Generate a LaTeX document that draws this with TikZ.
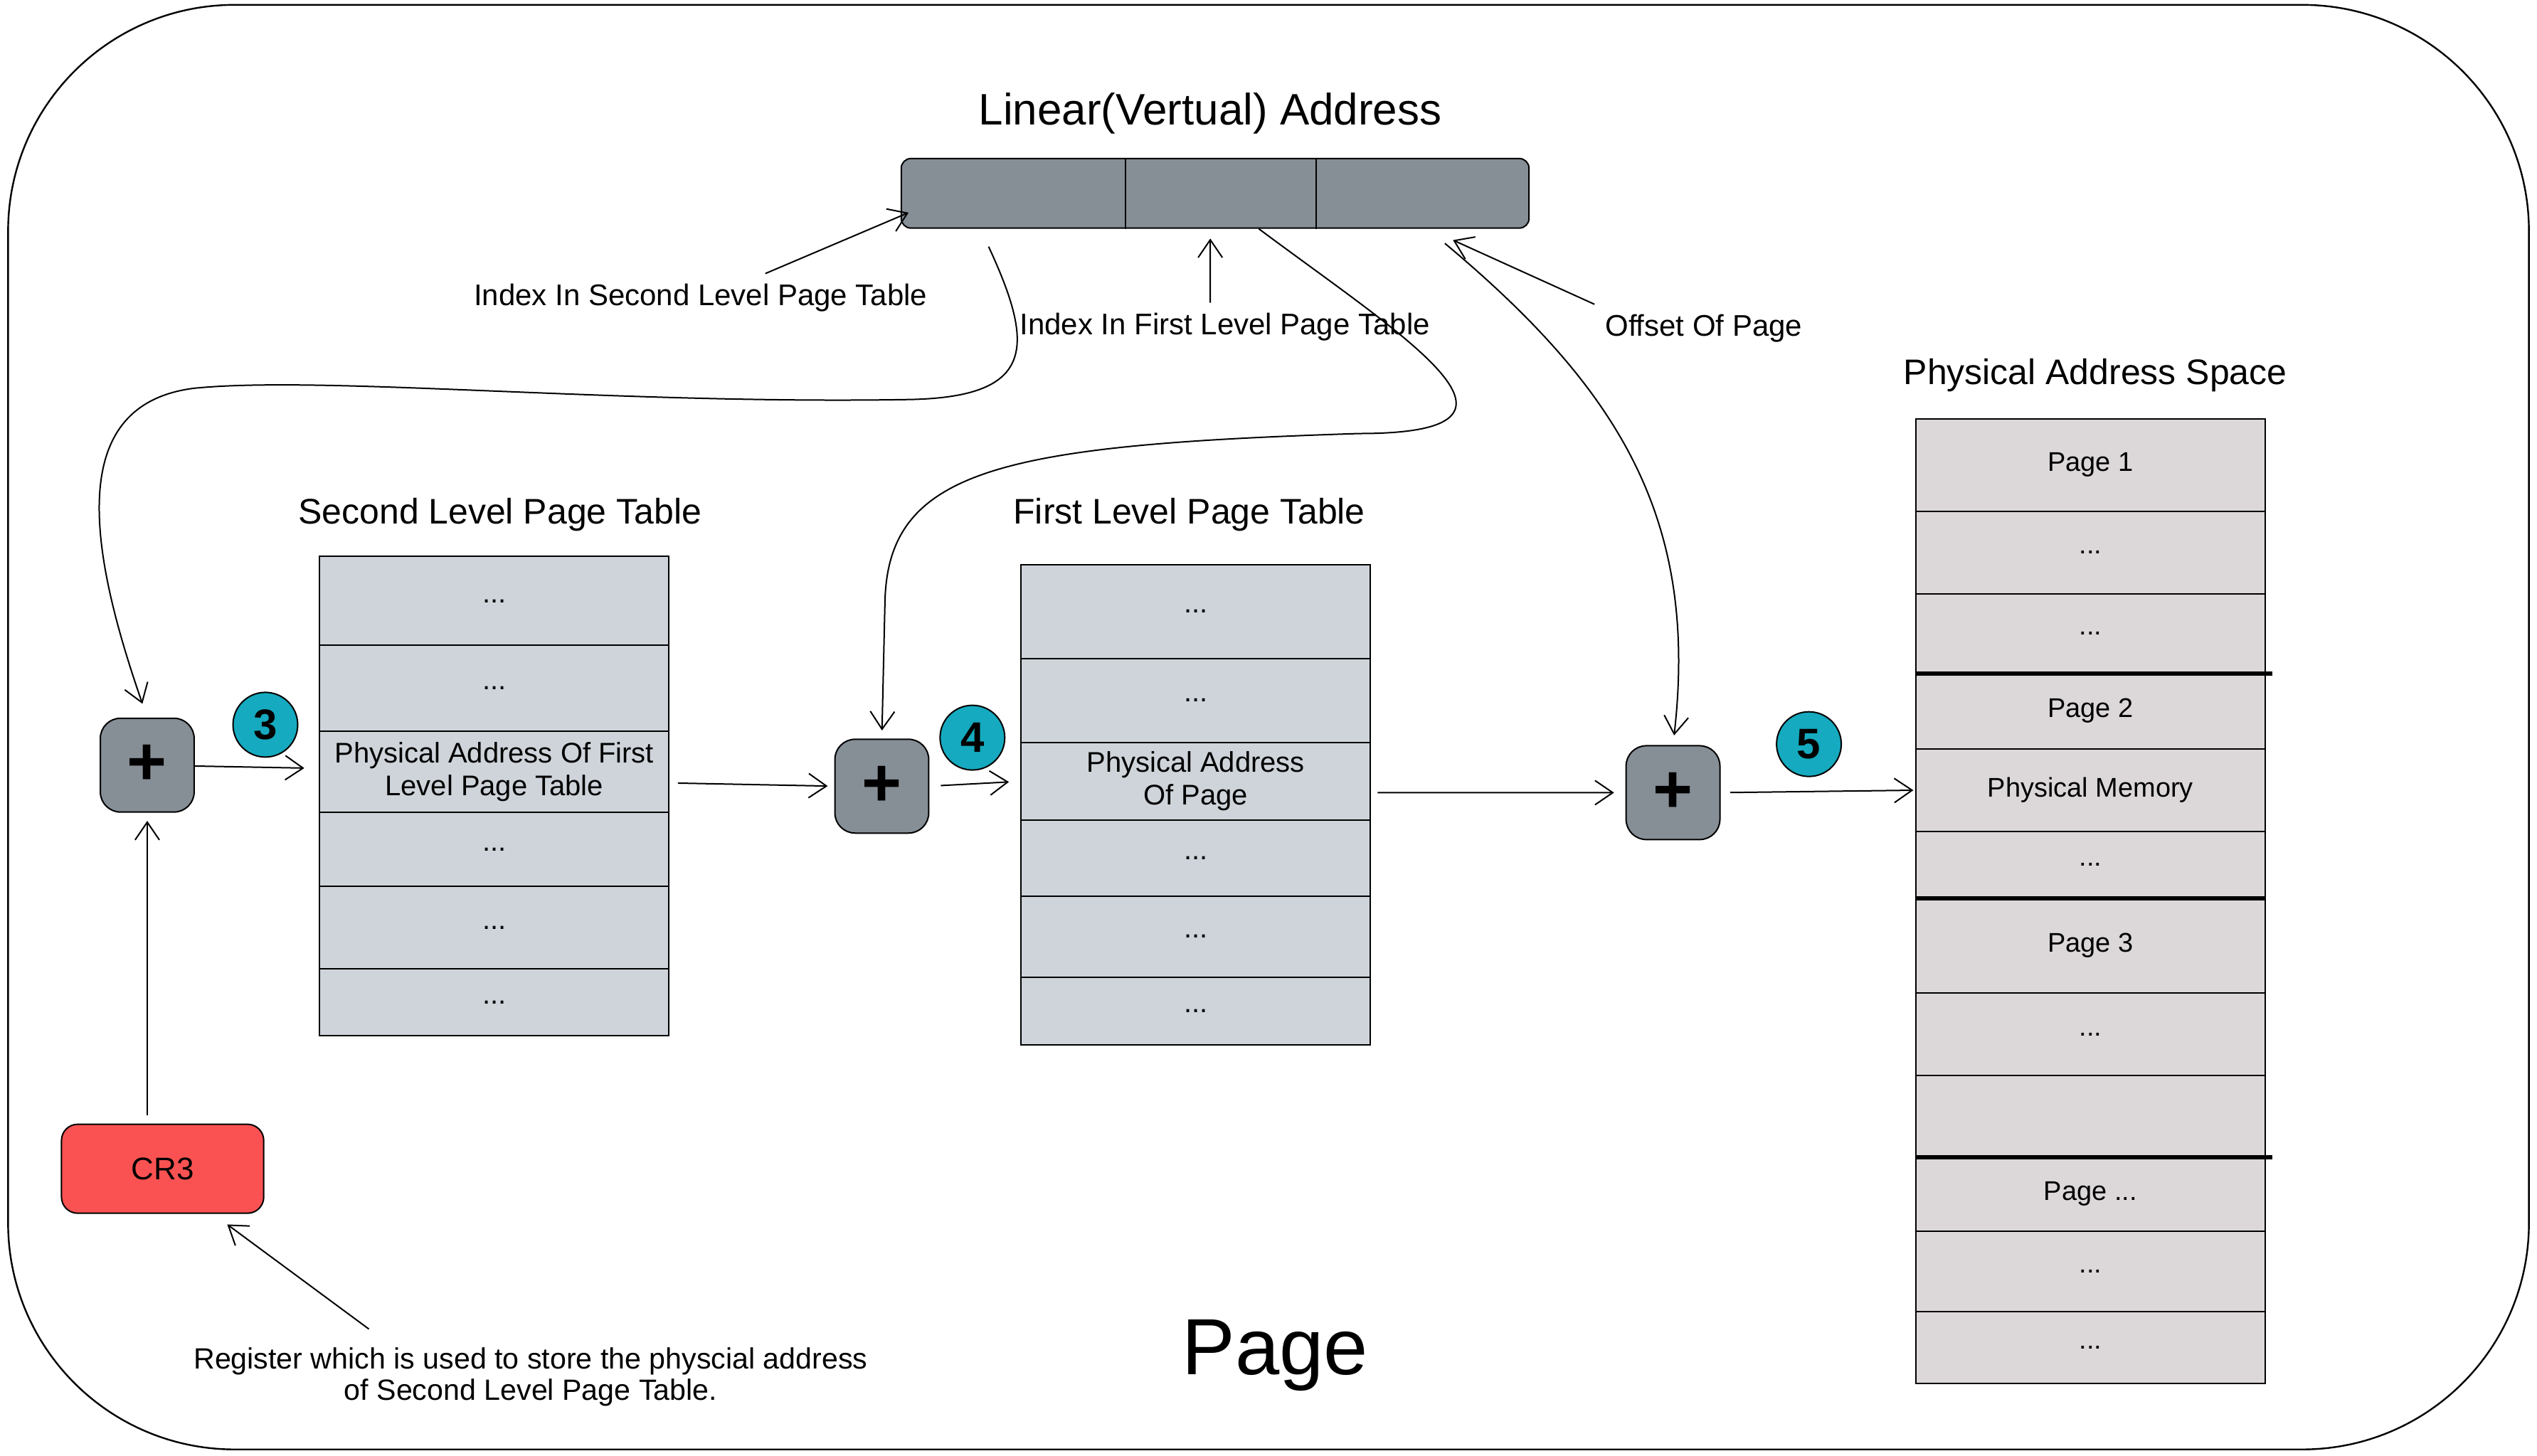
\documentclass[tikz,border=0pt]{standalone}
\usepackage{fontspec}
\setmainfont{Liberation Sans}
\usetikzlibrary{arrows.meta}

\definecolor{addrgray}{HTML}{868E96}
\definecolor{rowblue}{HTML}{CED4DA}
\definecolor{rowrose}{HTML}{DCD8D9}
\definecolor{badgeteal}{HTML}{15AABF}
\definecolor{regred}{HTML}{FA5252}

\tikzset{
  tblrow/.style={draw, line width=0.5pt, fill=rowblue, minimum width=43.2mm, inner sep=0pt,
    font=\fontsize{10}{11.5}\selectfont, align=center},
  memrow/.style={tblrow, fill=rowrose, font=\fontsize{9.5}{11.5}\selectfont},
  adder/.style={draw, fill=addrgray, rounded corners=2.5mm, minimum size=11.6mm, inner sep=0pt,
    font=\fontsize{24}{24}\selectfont\bfseries},
  badge/.style={circle, draw, fill=badgeteal, minimum size=8mm, inner sep=0pt,
    font=\fontsize{15}{15}\selectfont\bfseries},
  heading/.style={font=\fontsize{12.5}{14}\selectfont},
  hint/.style={font=\fontsize{10.5}{12}\selectfont},
  pagesep/.style={-, line width=1.6pt},
}

\begin{document}
\begin{tikzpicture}[->,>={Straight Barb[length=2.2mm,width=3mm]},x=0.2mm,y=-0.2mm,line width=0.5pt]
  \useasboundingbox (0,0) rectangle (1568,900);
  \draw[-, rounded corners=28mm, line width=0.6pt] (5,3) rectangle (1563,896);

  % linear address
  \node[font=\fontsize{15.5}{17}\selectfont] (vtitle) at (748,70) {Linear(Vertual) Address};
  \node[draw, fill=addrgray, rounded corners=1.2mm, minimum width=77.6mm, minimum height=8.6mm, inner sep=0pt] (vaddr) at (751,119.5) {};
  \node[minimum width=27.6mm, minimum height=8.6mm, inner sep=0pt] (seg1) at (626,119.5) {};
  \node[minimum width=23.6mm, minimum height=8.6mm, inner sep=0pt] (seg2) at (754,119.5) {};
  \node[minimum width=26.4mm, minimum height=8.6mm, inner sep=0pt] (seg3) at (879,119.5) {};
  \draw[-] (seg1.north east) -- (seg1.south east);
  \draw[-] (seg2.north east) -- (seg2.south east);

  \node[hint] (idx2) at (433,184) {Index In Second Level Page Table};
  \node[hint] (idx1) at (757,202) {Index In First Level Page Table};
  \node[hint] (offs) at (1053,203) {Offset Of Page};

  \draw ([xshift=8mm]idx2.north) -- ([xshift=1mm,yshift=2mm]vaddr.south west);
  \draw ([xshift=-1.8mm]idx1.north) -- ([xshift=-1.2mm,yshift=-1.2mm]seg2.south);
  \draw ([xshift=-13.5mm]offs.north) -- ([xshift=3.8mm,yshift=-1.4mm]seg3.south);

  % adders and steps
  \node[adder] (plus1) at (91,473) {+};
  \node[adder] (plus2) at (545,486) {+};
  \node[adder] (plus3) at (1034,490) {+};
  \node[badge] (b3) at (164,448) {3};
  \node[badge] (b4) at (601,456) {4};
  \node[badge] (b5) at (1118,460) {5};

  \node[draw, fill=regred, rounded corners=2mm, minimum width=25mm, minimum height=11mm,
        font=\fontsize{11}{13}\selectfont] (cr3) at (100.5,722.5) {CR3};
  \node[font=\fontsize{10.3}{11}\selectfont, align=center] (note) at (328,851)
        {Register which is used to store the physcial address\\of Second Level Page Table.};
  \node[font=\fontsize{28}{30}\selectfont] (pgtitle) at (788,838) {Page};

  % second level page table
  \node[heading] (sltitle) at (309,318) {Second Level Page Table};
  \node[tblrow, minimum height=11mm]   (sl1) at (305.5,371.5) {...};
  \node[tblrow, minimum height=10.6mm] (sl2) at (305.5,425.5) {...};
  \node[tblrow, minimum height=10mm]   (sl3) at (305.5,477)   {Physical Address Of First\\Level Page Table};
  \node[tblrow, minimum height=9.2mm]  (sl4) at (305.5,525)   {...};
  \node[tblrow, minimum height=10.2mm] (sl5) at (305.5,573.5) {...};
  \node[tblrow, minimum height=8.2mm]  (sl6) at (305.5,619.5) {...};

  % first level page table
  \node[heading] (fltitle) at (735,318) {First Level Page Table};
  \node[tblrow, minimum height=11.6mm] (fl1) at (739,378)   {...};
  \node[tblrow, minimum height=10.4mm] (fl2) at (739,433)   {...};
  \node[tblrow, minimum height=9.6mm]  (fl3) at (739,483)   {Physical Address\\Of Page};
  \node[tblrow, minimum height=9.4mm]  (fl4) at (739,530.5) {...};
  \node[tblrow, minimum height=10mm]   (fl5) at (739,579)   {...};
  \node[tblrow, minimum height=8.4mm]  (fl6) at (739,625)   {...};

  % physical address space
  \node[heading] (pmtitle) at (1295,232) {Physical Address Space};
  \node[memrow, minimum height=11.4mm] (pm1)  at (1292,287.5) {Page 1};
  \node[memrow, minimum height=10.2mm] (pm2)  at (1292,341.5) {...};
  \node[memrow, minimum height=9.8mm]  (pm3)  at (1292,391.5) {...};
  \node[memrow, minimum height=9.4mm]  (pm4)  at (1292,439.5) {Page 2};
  \node[memrow, minimum height=10.2mm] (pm5)  at (1292,488.5) {Physical Memory};
  \node[memrow, minimum height=8.2mm]  (pm6)  at (1292,534.5) {...};
  \node[memrow, minimum height=11.8mm] (pm7)  at (1292,584.5) {Page 3};
  \node[memrow, minimum height=10.2mm] (pm8)  at (1292,639.5) {...};
  \node[memrow, minimum height=10mm]   (pm9)  at (1292,690)   {};
  \node[memrow, minimum height=9.2mm]  (pm10) at (1292,738)   {Page ...};
  \node[memrow, minimum height=10mm]   (pm11) at (1292,786)   {...};
  \node[memrow, minimum height=8.8mm]  (pm12) at (1292,833)   {...};
  \draw[pagesep] (pm3.south west) -- ([xshift=0.8mm]pm3.south east);
  \draw[pagesep] (pm6.south west) -- (pm6.south east);
  \draw[pagesep] (pm9.south west) -- ([xshift=0.8mm]pm9.south east);

  % address flow
  \draw[shorten <=1mm, shorten >=1mm] (cr3.north -| plus1) -- (plus1.south);
  \draw[shorten >=0.5mm] ([xshift=-20mm,yshift=1mm]note.north) -- ([xshift=-5mm,yshift=-1mm]cr3.south east);
  \draw[shorten >=1.8mm] (plus1) -- (sl3);
  \draw[shorten <=1mm, shorten >=0.8mm] ([yshift=-1.4mm]sl3.east) -- (plus2.west);
  \draw[shorten <=1.4mm, shorten >=1.4mm] (plus2.east) -- (fl3.west);
  \draw[shorten <=0.8mm, shorten >=1.4mm] ([yshift=-1.4mm]fl3.east) -- (plus3.west);
  \draw[shorten <=1.2mm, shorten >=0.2mm] (plus3.east) -- (pm5.west);

  \draw[shorten >=1.8mm] ([xshift=-3mm,yshift=-2.2mm]seg1.south)
    .. controls (640,215) and (640,246) .. (560,247)
    .. controls (380,250) and (200,232) .. (120,240)
    .. controls (40,250) and (55,340) .. (plus1.north);
  \draw[shorten >=1mm] ([xshift=4.8mm]seg2.south)
    .. controls (870,210) and (965,268) .. (840,268)
    .. controls (620,275) and (550,290) .. (547,370) -- (plus2.north);
  \draw[shorten >=1.2mm] ([xshift=2.8mm,yshift=-1.8mm]seg3.south)
    .. controls (1000,240) and (1050,320) .. (plus3.north);
\end{tikzpicture}
\end{document}
